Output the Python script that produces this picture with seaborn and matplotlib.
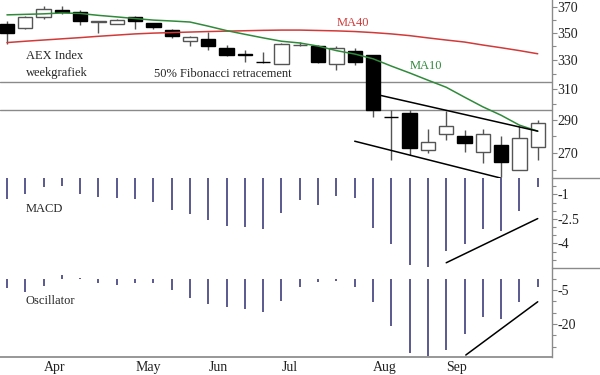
import numpy as np
import pandas as pd
import seaborn as sns
import matplotlib
matplotlib.use("Agg")
import matplotlib.pyplot as plt
from matplotlib.ticker import FixedLocator, NullFormatter, FixedFormatter
from matplotlib.lines import Line2D

# weekly AEX candles (Mar - Sep)
weeks = np.arange(30)
opens = [357, 354, 362, 368, 366, 358.6, 357, 362, 357.5, 352,
         344.2, 345.3, 338.5, 334.5, 329, 327.5, 341, 340.5, 327.3, 336.5,
         333.8, 292, 294.5, 271.9, 281, 280, 270.3, 274.8, 260.4, 273.4]
highs = [359, 363, 371, 371, 368, 359.5, 360.5, 363, 358, 353,
         348, 351, 341, 337.4, 336, 342.5, 343, 341, 340.5, 339,
         334, 296, 296, 284.5, 295.3, 283.9, 284.4, 280, 286, 290]
lows = [342, 353, 361, 365, 356, 350, 356.5, 353, 353, 346,
        340.5, 337, 333, 329, 328, 327, 340, 328, 323, 326.5,
        292, 266, 269, 270, 277.8, 270.5, 264, 256, 260, 266]
closes = [350, 362, 369, 366.5, 359, 359, 360, 359, 354.5, 348,
          347, 340.2, 333.5, 334, 328.6, 342, 341.3, 329, 338.7, 329,
          296.4, 291.5, 273, 276.3, 286.3, 276, 281.5, 264.5, 279, 288.3]
ma10 = [364.0, 364.4, 364.8, 365.5, 365.1, 363.6, 362.4, 361.1, 359.9, 359.2,
        358.4, 355.2, 351.8, 349.0, 346.3, 343.8, 342.5, 340.2, 336.9, 334.4,
        331.0, 325.8, 321.0, 316.0, 311.2, 304.6, 298.3, 292.9, 286.7, 283.0]
ma40 = [342.8, 343.8, 344.7, 345.6, 346.5, 347.5, 348.4, 349.3, 349.9, 350.3,
        350.7, 351.1, 351.4, 351.7, 352.0, 352.2, 352.2, 351.9, 351.6, 351.1,
        350.3, 349.3, 348.0, 346.3, 344.7, 343.2, 341.0, 339.0, 336.9, 334.6]
macd = [-1.26, -1.00, -0.55, -0.49, -0.95, -1.16, -1.20, -1.26, -1.47, -1.93,
        -2.17, -2.54, -2.94, -2.99, -3.13, -2.13, -1.36, -1.62, -1.10, -1.22,
        -3.05, -4.06, -5.32, -5.42, -4.45, -4.06, -3.13, -3.23, -2.03, -0.55]
osc = [-4.3, -5.8, -3.3, 1.5, 0.4, -1.8, -2.9, -2.1, -2.1, -5.1,
       -8.7, -11.2, -12.4, -13.5, -14.6, -9.8, -3.9, -1.4, -1.0, -3.9,
       -10.2, -21.0, -33.0, -34.2, -31.5, -24.5, -16.9, -17.6, -10.2, -3.9]

fib_levels = [315.0, 296.4]
upper_trend = ([20, 29], [306.9, 283.0])
lower_trend = ([19, 27], [276.9, 255.6])
macd_trend = ([24, 29], [-5.18, -2.48])
osc_trend = ([25.07, 29], [-33.7, -10.2])

month_pos = [2, 7, 11, 15, 20, 24, 29]
month_labels = ["Apr", "May", "Jun", "Jul", "Aug", "Sep", ""]
price_ticks = [270, 290, 310, 330, 350, 370]
price_minor = [260, 280, 300, 320, 340, 360]
macd_ticks = [-1, -2.5, -4]
osc_ticks = [-5, -20]

df = pd.DataFrame({"week": weeks, "open": opens, "high": highs, "low": lows,
                   "close": closes, "ma10": ma10, "ma40": ma40,
                   "macd": macd, "osc": osc})

sns.set_theme(style="white")
plt.rcParams["font.family"] = ["Liberation Serif", "DejaVu Serif"]
plt.rcParams["font.size"] = 9

fig = plt.figure(figsize=(6, 3.75), dpi=100)
ax_p = fig.add_axes([0, 1 - 178 / 375, 552 / 600, 178 / 375])
ax_m = fig.add_axes([0, 1 - 268 / 375, 552 / 600, 90 / 375])
ax_o = fig.add_axes([0, 1 - 357.3 / 375, 552 / 600, 89.3 / 375])

grey = "#8a8a8a"
bar_col = "#3d3d7c"

for ax in (ax_p, ax_m, ax_o):
    ax.set_xlim(-0.38, 29.78)
    for s in ("top", "left", "bottom"):
        ax.spines[s].set_visible(False)
    ax.spines["right"].set_color(grey)
    ax.spines["right"].set_linewidth(1)
    ax.yaxis.tick_right()
    ax.tick_params(axis="y", which="both", direction="out", colors=grey,
                   labelcolor="#222222", labelsize=10, pad=0.5, width=0.8)
    ax.tick_params(axis="y", which="major", length=3.5)
    ax.tick_params(axis="y", which="minor", length=3)

# ---- price panel
ax_p.set_yscale("log")
ax_p.set_ylim(255.7, 375.9)
for lvl in fib_levels:
    ax_p.axhline(lvl, color=grey, lw=1)
body_low = np.minimum(df["open"], df["close"])
body_h = np.abs(df["close"] - df["open"])
up = df["close"] >= df["open"]
ax_p.vlines(df["week"], df["low"], df["high"], color="#555555", lw=1, zorder=2)
ax_p.bar(df["week"][up], body_h[up], bottom=body_low[up], width=0.78,
         color="white", edgecolor="#555555", linewidth=1, zorder=3)
ax_p.bar(df["week"][~up], body_h[~up], bottom=body_low[~up], width=0.78,
         color="black", edgecolor="black", linewidth=1, zorder=3)
sns.lineplot(data=df, x="week", y="ma40", ax=ax_p, color="#d23a3a", lw=1.1, zorder=4)
sns.lineplot(data=df, x="week", y="ma10", ax=ax_p, color="#2f8a3a", lw=1.1, zorder=4)
ax_p.plot(*upper_trend, color="black", lw=1.1, zorder=5)
ax_p.plot(*lower_trend, color="black", lw=1.1, zorder=5)
ax_p.yaxis.set_major_locator(FixedLocator(price_ticks))
ax_p.yaxis.set_major_formatter(FixedFormatter([str(t) for t in price_ticks]))
ax_p.yaxis.set_minor_locator(FixedLocator(price_minor))
ax_p.yaxis.set_minor_formatter(NullFormatter())
ax_p.set_xticks([])
ax_p.set_xlabel("")
ax_p.set_ylabel("")

ax_p.text(0.047, 0.666, "AEX Index", transform=ax_p.transAxes, va="baseline")
ax_p.text(0.047, 0.573, "weekgrafiek", transform=ax_p.transAxes, va="baseline")
ax_p.text(0.279, 0.570, "50% Fibonacci retracement", transform=ax_p.transAxes,
          va="baseline")
ax_p.text(0.6105, 0.854, "MA40", transform=ax_p.transAxes, va="baseline",
          color="#d23a3a")
ax_p.text(0.743, 0.611, "MA10", transform=ax_p.transAxes, va="baseline",
          color="#2f8a3a")

# ---- MACD panel
ax_m.set_ylim(-5.5, 0.0)
ax_m.vlines(df["week"], 0, df["macd"], color=bar_col, lw=1.2)
ax_m.plot(*macd_trend, color="black", lw=1.1)
ax_m.yaxis.set_major_locator(FixedLocator(macd_ticks))
ax_m.yaxis.set_major_formatter(FixedFormatter(["-1", "-2.5", "-4"]))
ax_m.yaxis.set_minor_locator(FixedLocator(np.arange(-5.0, 0, 0.5)))
ax_m.yaxis.set_minor_formatter(NullFormatter())
ax_m.set_xticks([])
ax_m.text(0.047, 0.626, "MACD", transform=ax_m.transAxes, va="baseline")

# ---- Oscillator panel
ax_o.set_ylim(-34.7, 4.7)
ax_o.vlines(df["week"], 0, df["osc"], color=bar_col, lw=1.2)
ax_o.plot(*osc_trend, color="black", lw=1.1)
ax_o.yaxis.set_major_locator(FixedLocator(osc_ticks))
ax_o.yaxis.set_major_formatter(FixedFormatter(["-5", "-20"]))
ax_o.yaxis.set_minor_locator(FixedLocator(np.arange(-30, 1, 5)))
ax_o.yaxis.set_minor_formatter(NullFormatter())
ax_o.spines["bottom"].set_visible(True)
ax_o.spines["bottom"].set_color(grey)
ax_o.set_xticks(month_pos)
ax_o.set_xticklabels(month_labels, ha="left")
ax_o.tick_params(axis="x", direction="out", length=3.5, colors=grey,
                 labelcolor="#222222", labelsize=10, pad=-0.5, width=0.8)
ax_o.set_xlabel("")
ax_o.set_ylabel("")
ax_o.text(0.047, 0.597, "Oscillator", transform=ax_o.transAxes, va="baseline")

# panel dividers in the right-hand scale area
for yy in (178, 268):
    fig.add_artist(Line2D([552 / 600, 1], [1 - yy / 375] * 2, color=grey, lw=1))

fig.savefig("out.png", dpi=100, facecolor="white")
